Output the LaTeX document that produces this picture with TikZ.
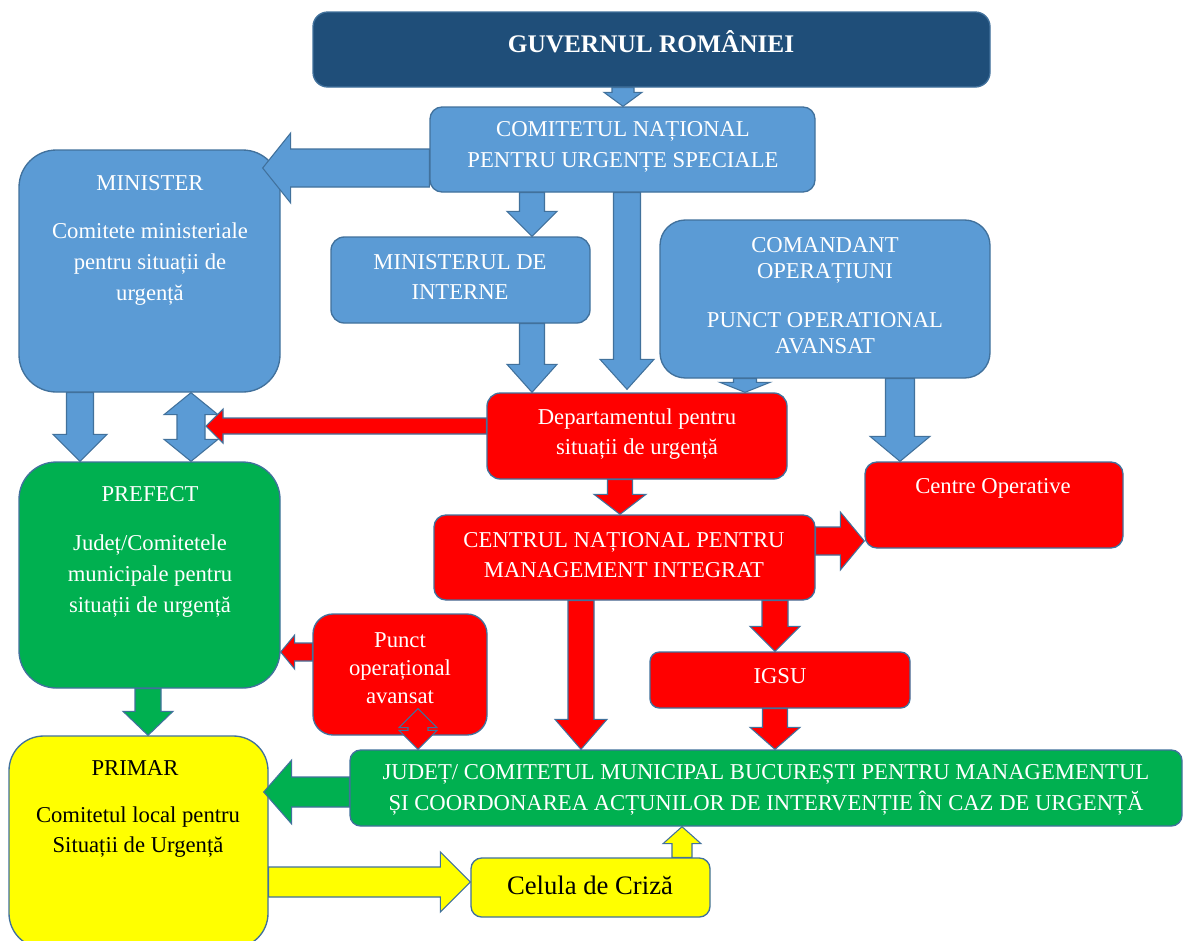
\documentclass[tikz,border=0pt]{standalone}
\usepackage{fontspec}
\setmainfont{Liberation Serif}
\usetikzlibrary{calc,fit}
\definecolor{dblue}{RGB}{31,78,121}
\definecolor{mblue}{RGB}{91,155,213}
\definecolor{edgec}{RGB}{65,113,156}
\definecolor{mred}{RGB}{255,0,0}
\definecolor{mgreen}{RGB}{0,176,80}
\definecolor{myellow}{RGB}{255,255,0}
\tikzset{
  box/.style={draw=edgec, line width=1pt, inner sep=0pt},
  blk/.style={draw=edgec, line width=0.8pt, line join=miter},
  txt/.style={font=\fontsize{17}{23}\selectfont, align=center, text=white, inner sep=0pt},
  btxt/.style={txt, text=black}
}
% single block arrow: [style]{from}{to}{shaft half}{head half}{head length} (px)
\newcommand\blockarrow[6][]{%
  \path[blk,#1] let \p1=(#2), \p2=(#3),
     \n1={veclen(\x2-\x1,\y2-\y1)},
     \n2={(\x2-\x1)/\n1}, \n3={(\y2-\y1)/\n1},
     \n4={#4*0.75}, \n5={#5*0.75}, \n6={\n1-#6*0.75}
   in ({\x1-\n4*\n3},{\y1+\n4*\n2})
   -- ({\x1+\n6*\n2-\n4*\n3},{\y1+\n6*\n3+\n4*\n2})
   -- ({\x1+\n6*\n2-\n5*\n3},{\y1+\n6*\n3+\n5*\n2})
   -- (\p2)
   -- ({\x1+\n6*\n2+\n5*\n3},{\y1+\n6*\n3-\n5*\n2})
   -- ({\x1+\n6*\n2+\n4*\n3},{\y1+\n6*\n3-\n4*\n2})
   -- ({\x1+\n4*\n3},{\y1-\n4*\n2}) -- cycle;}
% double block arrow
\newcommand\dblarrow[6][]{%
  \path[blk,#1] let \p1=(#2), \p2=(#3),
     \n1={veclen(\x2-\x1,\y2-\y1)},
     \n2={(\x2-\x1)/\n1}, \n3={(\y2-\y1)/\n1},
     \n4={#4*0.75}, \n5={#5*0.75}, \n6={\n1-#6*0.75}, \n7={#6*0.75}
   in (\p1)
   -- ({\x1+\n7*\n2-\n5*\n3},{\y1+\n7*\n3+\n5*\n2})
   -- ({\x1+\n7*\n2-\n4*\n3},{\y1+\n7*\n3+\n4*\n2})
   -- ({\x1+\n6*\n2-\n4*\n3},{\y1+\n6*\n3+\n4*\n2})
   -- ({\x1+\n6*\n2-\n5*\n3},{\y1+\n6*\n3+\n5*\n2})
   -- (\p2)
   -- ({\x1+\n6*\n2+\n5*\n3},{\y1+\n6*\n3-\n5*\n2})
   -- ({\x1+\n6*\n2+\n4*\n3},{\y1+\n6*\n3-\n4*\n2})
   -- ({\x1+\n7*\n2+\n4*\n3},{\y1+\n7*\n3-\n4*\n2})
   -- ({\x1+\n7*\n2+\n5*\n3},{\y1+\n7*\n3-\n5*\n2}) -- cycle;}
\begin{document}
\begin{tikzpicture}[x=0.75pt,y=-0.75pt]
\clip (0,0) rectangle (1184,940);
\fill[white] (0,0) rectangle (1184,940);
% boxes
\node[box, fill=dblue, rounded corners=11pt, fit={(313,12) (990,87)}] (g) {};
\node[box, fill=mblue, rounded corners=9pt, fit={(430,107) (815,192)}] (cnus) {};
\node[box, fill=mblue, rounded corners=28pt, fit={(19,150) (280,392)}] (minister) {};
\node[box, fill=mblue, rounded corners=10pt, fit={(331,237) (590,323)}] (mint) {};
\node[box, fill=mblue, rounded corners=19pt, fit={(660,220) (990,378)}] (com) {};
\node[box, fill=mred, rounded corners=10pt, fit={(487,393) (787,479)}] (dep) {};
\node[box, fill=mgreen, rounded corners=28pt, fit={(19,462) (280,688)}] (prefect) {};
\node[box, fill=mred, rounded corners=9pt, fit={(865,462) (1123,548)}] (centre) {};
\node[box, fill=mred, rounded corners=9pt, fit={(434,515) (815,600)}] (centrul) {};
\node[box, fill=mred, rounded corners=15pt, fit={(313,614) (487,735)}] (punct) {};
\node[box, fill=mred, rounded corners=7pt, fit={(650,652) (910,708)}] (igsu) {};
\node[box, fill=myellow, rounded corners=26pt, fit={(9,736) (268,948)}] (primar) {};
\node[box, fill=mgreen, rounded corners=8pt, fit={(350,750) (1182,826)}] (judet) {};
\node[box, fill=myellow, rounded corners=8pt, fit={(471,858) (710,917)}] (celula) {};
% helper coordinates
\coordinate (x623) at (623,0);
\coordinate (x532) at (532,0);
\coordinate (x627) at (627,0);
\coordinate (x745) at (745,0);
\coordinate (x900) at (900,0);
\coordinate (x80) at (80,0);
\coordinate (x191) at (191,0);
\coordinate (x206) at (206,0);
\coordinate (x620) at (620,0);
\coordinate (x581) at (581,0);
\coordinate (x775) at (775,0);
\coordinate (x418) at (418,0);
\coordinate (x148) at (148,0);
\coordinate (x682) at (682,0);
\coordinate (y168) at (0,168);
\coordinate (y426) at (0,426);
\coordinate (y541) at (0,541);
\coordinate (y652) at (0,652);
\coordinate (y792) at (0,792);
\coordinate (y882) at (0,882);
% arrows
\blockarrow[fill=mblue]{g.south -| x623}{cnus.north -| x623}{11}{19}{14}
\blockarrow[fill=mblue]{cnus.west |- y168}{$(minister.east |- y168)+(-18,0)$}{19}{35}{28}
\blockarrow[fill=mblue]{cnus.south -| x532}{mint.north -| x532}{12.5}{25}{25}
\blockarrow[fill=mblue]{cnus.south -| x627}{$(dep.north -| x627)+(0,-3)$}{13.5}{27}{30}
\blockarrow[fill=mblue]{mint.south -| x532}{dep.north -| x532}{12.5}{25}{28}
\blockarrow[fill=mblue]{com.south -| x745}{dep.north -| x745}{11.5}{25}{10}
\blockarrow[fill=mblue]{com.south -| x900}{centre.north -| x900}{14.5}{30}{25}
\blockarrow[fill=mblue]{minister.south -| x80}{prefect.north -| x80}{13.5}{27}{27}
\dblarrow[fill=mblue]{minister.south -| x191}{prefect.north -| x191}{14}{27}{22}
\blockarrow[fill=mred]{dep.west |- y426}{x206 |- y426}{8}{17}{17}
\blockarrow[fill=mred]{dep.south -| x620}{centrul.north -| x620}{12.5}{26}{20}
\blockarrow[fill=mred]{centrul.east |- y541}{centre.west |- y541}{14}{29}{24}
\blockarrow[fill=mred]{centrul.south -| x581}{judet.north -| x581}{13}{26}{30}
\blockarrow[fill=mred]{centrul.south -| x775}{igsu.north -| x775}{13}{25}{25}
\blockarrow[fill=mred]{igsu.south -| x775}{judet.north -| x775}{12.5}{25}{22}
\blockarrow[fill=mred]{punct.west |- y652}{prefect.east |- y652}{9}{17}{14}
\dblarrow[fill=mred]{$(punct.south -| x418)+(0,-27)$}{judet.north -| x418}{10}{19}{19}
\blockarrow[fill=mgreen]{prefect.south -| x148}{primar.north -| x148}{13}{25}{24}
\blockarrow[fill=mgreen]{judet.west |- y792}{$(primar.east |- y792)+(-5,0)$}{15}{32}{28}
\blockarrow[fill=myellow]{primar.east |- y882}{celula.west |- y882}{15}{30}{30}
\blockarrow[fill=myellow]{celula.north -| x682}{judet.south -| x682}{10}{19}{17}
% texts
\node[txt, font=\bfseries\fontsize{19}{23}\selectfont] (tg) at (651,42) {GUVERNUL ROMÂNIEI};
\node[txt] (tcnus) at (623,147) {COMITETUL NAȚIONAL\\PENTRU URGENȚE SPECIALE};
\node[txt] (tmin1) at (150,183) {MINISTER};
\node[txt] (tmin2) at (150,264) {Comitete ministeriale\\pentru situații de\\urgență};
\node[txt] (tmint) at (460,277) {MINISTERUL DE\\INTERNE};
\node[txt, font=\fontsize{17}{19.5}\selectfont] (tcom1) at (825,260) {COMANDANT\\OPERAȚIUNI};
\node[txt, font=\fontsize{17}{19.5}\selectfont] (tcom2) at (825,333) {PUNCT OPERATIONAL\\AVANSAT};
\node[txt] (tdep) at (637,434) {Departamentul pentru\\situații de urgență};
\node[txt] (tpref1) at (150,494) {PREFECT};
\node[txt] (tpref2) at (150,576) {Județ/Comitetele\\municipale pentru\\situații de urgență};
\node[txt] (tcentre) at (993,488) {Centre Operative};
\node[txt] (tcentrul) at (624,555) {CENTRUL NAȚIONAL PENTRU\\MANAGEMENT INTEGRAT};
\node[txt, font=\fontsize{17}{21}\selectfont] (tpunct) at (400,668) {Punct\\operațional\\avansat};
\node[txt] (tigsu) at (780,676) {IGSU};
\node[btxt] (tprim1) at (135,768) {PRIMAR};
\node[btxt] (tprim2) at (138,832) {Comitetul local pentru\\Situații de Urgență};
\node[txt] (tjudet) at (766,790) {JUDEȚ/ COMITETUL MUNICIPAL BUCUREȘTI PENTRU MANAGEMENTUL\\ȘI COORDONAREA ACȚUNILOR DE INTERVENȚIE ÎN CAZ DE URGENȚĂ};
\node[btxt, font=\fontsize{20}{24}\selectfont] (tcel) at (590,885) {Celula de Criză};
\end{tikzpicture}
\end{document}
